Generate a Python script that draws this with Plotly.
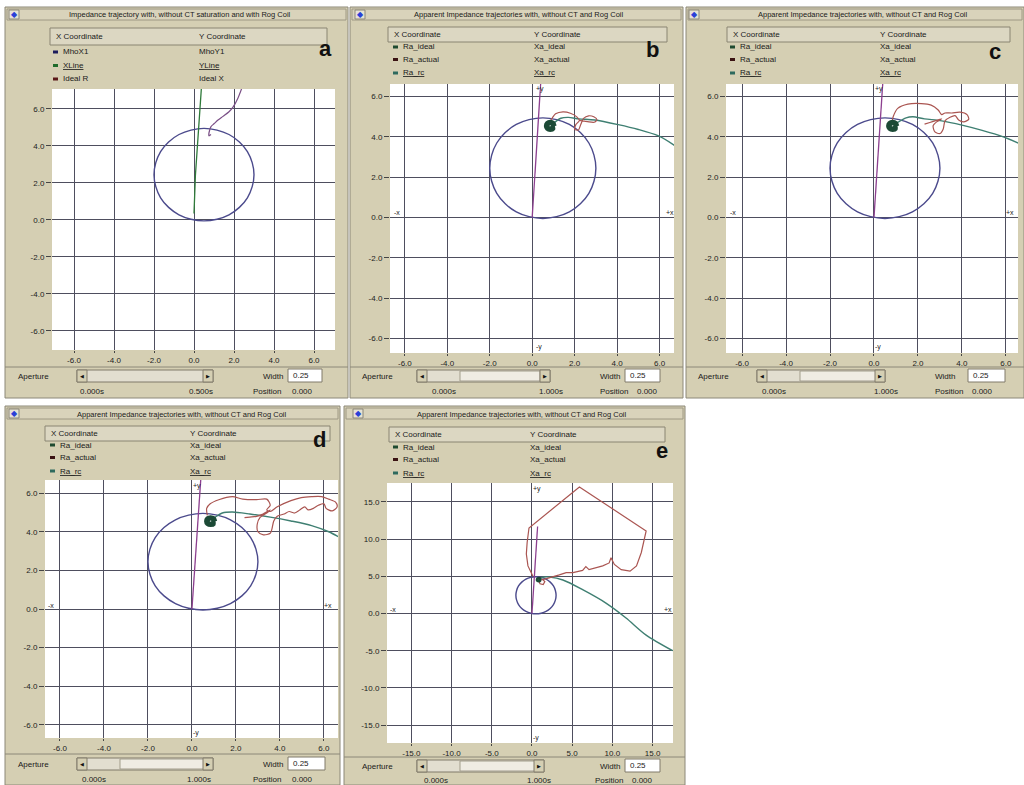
import plotly.graph_objects as go

W, H = 1024, 785
FONT = "Liberation Sans, Arial, sans-serif"

# ---------------- data (R on x, X on y) ----------------
MHO_R = [3.00, 2.91, 2.67, 2.27, 1.75, 1.15, 0.50, -0.15, -0.75, -1.27, -1.67, -1.91, -2.00,
         -1.91, -1.67, -1.27, -0.75, -0.15, 0.50, 1.15, 1.75, 2.27, 2.67, 2.91, 3.00]
MHO_X = [2.45, 3.10, 3.70, 4.22, 4.62, 4.86, 4.95, 4.86, 4.62, 4.22, 3.70, 3.10, 2.45,
         1.80, 1.20, 0.68, 0.28, 0.04, -0.05, 0.04, 0.28, 0.68, 1.20, 1.80, 2.45]

# panel a
XLINE_A = [0.00, 0.03, 0.07, 0.38]
YLINE_A = [0.35, 2.20, 2.40, 7.30]
IDEAL_R_A = [2.45, 2.20, 1.95, 1.75, 1.45, 1.20, 1.00, 0.85, 0.78, 0.74, 0.75, 0.85]
IDEAL_X_A = [7.30, 6.60, 6.10, 5.85, 5.60, 5.40, 5.20, 5.05, 4.85, 4.62, 4.55, 4.62]

# characteristic line (panels b-e)
LINE_R = [0.00, 0.70]
LINE_X = [0.00, 11.70]

# ideal trajectory (settles in a small spiral at the fault point)
RA_IDEAL = [1.10, 1.03, 0.85, 0.67, 0.60, 0.67, 0.85, 1.03, 1.02, 0.97, 0.85, 0.73, 0.68,
            0.73, 0.85, 0.97, 0.94, 0.91, 0.85, 0.79, 0.76, 0.79, 0.85, 0.91, 0.88]
XA_IDEAL = [4.55, 4.73, 4.80, 4.73, 4.55, 4.37, 4.30, 4.37, 4.55, 4.67, 4.72, 4.67, 4.55,
            4.43, 4.38, 4.43, 4.55, 4.61, 4.64, 4.61, 4.55, 4.49, 4.46, 4.49, 4.55]

# panel b
RA_ACTUAL_B = [0.80, 0.95, 1.10, 1.45, 1.80, 2.10, 2.22, 2.05, 2.00, 2.18, 2.28, 2.42, 2.66,
               2.90, 3.05, 2.92, 2.60, 2.35, 2.20]
XA_ACTUAL_B = [4.70, 4.95, 5.15, 5.25, 5.18, 5.00, 4.82, 4.60, 4.38, 4.35, 4.60, 4.92, 5.05,
               5.00, 4.85, 4.73, 4.76, 4.80, 4.85]
RA_RC_B = [0.95, 1.15, 1.35, 1.70, 2.20, 2.95, 4.05, 5.00, 5.95, 6.75]
XA_RC_B = [4.62, 4.80, 4.93, 4.97, 4.90, 4.84, 4.61, 4.37, 4.05, 3.55]

# panel c
RA_ACTUAL_C = [0.82, 0.88, 1.08, 1.54, 2.15, 2.60, 2.92, 3.08, 3.23, 3.54, 3.92, 4.23, 4.31,
               4.08, 3.85, 3.69, 3.46, 3.23, 3.15, 3.00, 2.77, 2.69, 2.85, 3.08, 2.77, 2.54, 2.30]
XA_ACTUAL_C = [4.75, 5.03, 5.42, 5.63, 5.66, 5.58, 5.34, 5.11, 5.19, 5.19, 5.23, 5.11, 4.88,
               4.75, 4.84, 5.06, 4.98, 4.80, 4.40, 4.17, 4.25, 4.56, 4.75, 4.90, 4.80, 4.72, 4.64]
RA_RC_C = [0.95, 1.08, 1.46, 1.77, 2.30, 3.08, 4.00, 4.92, 5.85, 6.77]
XA_RC_C = [4.62, 4.72, 4.95, 5.00, 4.90, 4.80, 4.59, 4.33, 4.02, 3.60]

# panel d
RA_ACTUAL_D = [0.70, 0.67, 0.83, 1.22, 1.84, 2.31, 2.94, 3.40, 3.56, 3.40, 3.56, 3.88, 4.50,
               4.97, 5.44, 5.90, 6.22, 6.53, 6.60, 6.38, 6.10, 6.00, 5.75, 5.52, 5.28, 5.13,
               4.90, 4.66, 4.42, 4.19, 3.88, 3.72, 3.64, 3.56, 3.25, 3.00, 2.97, 3.09, 3.40,
               3.56, 3.20, 2.94, 2.63, 2.39]
XA_ACTUAL_D = [4.85, 5.21, 5.45, 5.66, 5.82, 5.69, 5.66, 5.69, 5.37, 5.13, 5.05, 5.29, 5.61,
               5.77, 5.82, 5.82, 5.69, 5.53, 5.29, 5.08, 5.21, 5.45, 5.37, 5.21, 5.13, 5.29,
               5.13, 4.97, 5.05, 4.92, 4.80, 4.56, 4.16, 3.92, 3.84, 4.00, 4.40, 4.73, 4.97,
               5.13, 4.90, 4.80, 4.76, 4.73]
RA_RC_D = [0.90, 1.06, 1.38, 1.84, 2.63, 3.56, 4.50, 5.44, 6.22, 6.80]
XA_RC_D = [4.62, 4.76, 4.97, 5.02, 4.92, 4.76, 4.56, 4.32, 4.00, 3.65]

# panel e
RA_ACTUAL_E = [0.80, 1.00, 1.40, 1.60, 1.30, 1.16, 1.80, 2.60, 3.40, 4.25, 5.10, 6.30, 6.70,
               7.10, 8.00, 8.80, 9.60, 9.83, 10.25, 11.10, 12.20, 13.00, 13.60, 14.20, 5.90,
               -0.37, -0.60, -0.70, -0.50, 0.12]
XA_ACTUAL_E = [4.50, 4.00, 3.90, 4.30, 4.60, 4.50, 4.70, 5.00, 5.20, 5.50, 5.50, 5.80, 6.30,
               5.90, 6.20, 6.40, 6.80, 7.50, 6.60, 5.90, 5.70, 6.40, 8.20, 11.10, 17.00,
               11.50, 9.55, 8.00, 6.40, 5.00]
RA_RC_E = [0.80, 1.50, 2.20, 3.85, 6.30, 9.20, 11.70, 14.20, 17.50]
XA_RC_E = [4.70, 4.90, 4.90, 4.50, 3.20, 1.40, -0.60, -2.90, -5.00]

TICKS_SMALL = [-6, -4, -2, 0, 2, 4, 6]
TICKS_LARGE = [-15, -10, -5, 0, 5, 10, 15]

# ---------------- styling ----------------
TAN = "#d5cfb3"
EDGE = "#8c8878"
GRID = "#4e4e5e"
C_MHO = "#4b4a8c"
C_LINE = "#8c3f8f"
C_XLINE = "#2f7a3a"
C_IDEAL_A = "#7a4f86"
C_ACTUAL = "#aa5551"
C_RC = "#3f7f72"
C_IDEAL = "#1c4a36"

shapes = []
annotations = []


def px(x):
    return x / W


def py(y):
    return 1 - y / H


def rect(x0, y0, x1, y1, fill, line=None, lw=1):
    shapes.append(dict(type="rect", xref="paper", yref="paper", layer="below",
                       x0=px(x0), x1=px(x1), y0=py(y1), y1=py(y0), fillcolor=fill,
                       line=dict(color=line if line else fill, width=lw if line else 0)))


def hline(x0, x1, y, color=EDGE, lw=1):
    shapes.append(dict(type="line", xref="paper", yref="paper", layer="below",
                       x0=px(x0), x1=px(x1), y0=py(y), y1=py(y), line=dict(color=color, width=lw)))


def text(x, y, s, size=8, anchor="left", color="#1a1a1a"):
    annotations.append(dict(x=px(x), y=py(y), xref="paper", yref="paper", text=s,
                            showarrow=False, xanchor=anchor, yanchor="middle",
                            font=dict(family=FONT, size=size, color=color)))


TITLE_A = "Impedance trajectory with, without CT saturation and with Rog Coil"
TITLE_B = "Apparent Impedance trajectories with, without CT and Rog Coil"
NAMES_A = [("MhoX1", "MhoY1", False, "#1c1c5c"), ("XLine", "YLine", True, "#1f6b2b"),
           ("Ideal R", "Ideal X", False, "#5a1818")]
NAMES_B = [("Ra_ideal", "Xa_ideal", False, "#1e4a30"), ("Ra_actual", "Xa_actual", False, "#3a1212"),
           ("Ra_rc", "Xa_rc", True, "#2e6a5e")]

PANELS = [
    dict(frame=(5, 7, 348, 398), tb=(9, 20), icon=9, title=TITLE_A, title_x=180,
         header=(50, 28, 327, 45), col1=52, col2=197, rows=(52, 65.5, 79), names=NAMES_A,
         label=("a", 325, 49), plot=(52, 89, 335, 350), rx=[-7.1, 7.05], ry=[-7.03, 7.08],
         ticks=TICKS_SMALL, sep=367, ap=(16, 376), slider=(77, 370, 213, 382), thumb=None,
         wlabel=285, wbox=(288, 369, 322, 382), times=(78, 187, 283, 290, 391), mid="0.500s",
         dirs=None),
    dict(frame=(350, 7, 683, 398), tb=(9, 20), icon=355, title=TITLE_B, title_x=518,
         header=(388, 27, 667, 42), col1=392, col2=532, rows=(47, 59.5, 73), names=NAMES_B,
         label=("b", 652, 50), plot=(390, 84, 674, 353), rx=[-6.7, 6.68], ry=[-6.73, 6.63],
         ticks=TICKS_SMALL, sep=367, ap=(360, 376), slider=(417, 370, 550, 382), thumb=(460, 540),
         wlabel=622, wbox=(625, 369, 660, 382), times=(430, 537, 630, 635, 391), mid="1.000s",
         dirs={"+y": (534, 89), "-y": (534, 347), "-x": (392, 213), "+x": (664, 213)}),
    dict(frame=(686, 7, 1024, 398), tb=(9, 20), icon=689, title=TITLE_B, title_x=862,
         header=(727, 27, 1010, 42), col1=729, col2=878, rows=(47, 59.5, 73), names=NAMES_B,
         label=("c", 995, 52), plot=(726, 84, 1018, 353), rx=[-6.73, 6.55], ry=[-6.73, 6.63],
         ticks=TICKS_SMALL, sep=367, ap=(696, 376), slider=(757, 370, 885, 382), thumb=(800, 878),
         wlabel=957, wbox=(968, 369, 1005, 382), times=(760, 872, 965, 970, 391), mid="1.000s",
         dirs={"+y": (873, 89), "-y": (873, 347), "-x": (728, 213), "+x": (1004, 213)}),
    dict(frame=(5, 406, 340, 785), tb=(408, 419), icon=9, title=TITLE_B, title_x=181,
         header=(45, 426, 330, 441), col1=49, col2=188, rows=(445, 457.5, 471), names=NAMES_B,
         label=("d", 319, 439), plot=(45, 480, 338, 738), rx=[-6.68, 6.64], ry=[-6.68, 6.68],
         ticks=TICKS_SMALL, sep=754, ap=(16, 764), slider=(77, 758, 213, 770), thumb=(120, 205),
         wlabel=285, wbox=(288, 757, 325, 770), times=(80, 185, 283, 290, 779), mid="1.000s",
         dirs={"+y": (191, 486), "-y": (191, 733), "-x": (46, 605), "+x": (322, 605)}),
    dict(frame=(344, 406, 685, 785), tb=(408, 419), icon=353, title=TITLE_B, title_x=521,
         header=(389, 427, 665, 442), col1=392, col2=528, rows=(447, 459.5, 473), names=NAMES_B,
         label=("e", 662, 450), plot=(387, 483, 673, 743), rx=[-18.03, 17.54], ry=[-17.4, 17.54],
         ticks=TICKS_LARGE, sep=757, ap=(360, 766), slider=(417, 760, 544, 772), thumb=(460, 535),
         wlabel=622, wbox=(625, 759, 660, 772), times=(422, 525, 625, 630, 780), mid="1.000s",
         dirs={"+y": (531, 489), "-y": (531, 738), "-x": (388, 609), "+x": (662, 609)}),
]


def decor(p):
    L, T, R, B = p["frame"]
    rect(L, T, R, B, TAN, EDGE)
    x0, y0, x1, y1 = p["plot"]
    rect(x0, y0, x1, y1, "#ffffff")
    t0, t1 = p["tb"]
    rect(L + 2, t0, R - 2, t1, "#d9d3bb", "#9e9884")
    ic = p["icon"]
    rect(ic, t0 + 1, ic + 10, t1 - 1, "#e6e2d6", EDGE)
    text(ic + 5, (t0 + t1) / 2, "◆", size=8, anchor="center", color="#2a3fd8")
    text(p["title_x"], (t0 + t1) / 2 + 0.5, p["title"], size=7.5, anchor="center")
    hx0, hy0, hx1, hy1 = p["header"]
    rect(hx0, hy0, hx1, hy1, "#dcd7c2", "#8a8572")
    text(hx0 + 4, (hy0 + hy1) / 2, "X Coordinate")
    text(p["col2"], (hy0 + hy1) / 2, "Y Coordinate")
    for y, (n1, n2, ul, mc) in zip(p["rows"], p["names"]):
        rect(p["col1"] + 1, y - 1.5, p["col1"] + 6, y + 1.5, mc)
        if ul:
            n1 = '<span style="text-decoration:underline">%s</span>' % n1
            n2 = '<span style="text-decoration:underline">%s</span>' % n2
        text(p["col1"] + 9, y, n1)
        text(p["col2"], y, n2)
    lab, lx, ly = p["label"]
    text(lx, ly, "<b>%s</b>" % lab, size=22, anchor="center", color="#111111")
    hline(L, R, p["sep"])
    ax_, ay = p["ap"]
    text(ax_, ay, "Aperture")
    sx0, sy0, sx1, sy1 = p["slider"]
    rect(sx0, sy0, sx1, sy1, "#e2ded0", "#807b6a")
    if p["thumb"]:
        rect(p["thumb"][0], sy0 + 1, p["thumb"][1], sy1 - 1, "#efece3", "#a29d8b")
    rect(sx0, sy0, sx0 + 10, sy1, TAN, "#807b6a")
    rect(sx1 - 10, sy0, sx1, sy1, TAN, "#807b6a")
    text(sx0 + 5, (sy0 + sy1) / 2, "◀", size=5, anchor="center", color="#111")
    text(sx1 - 5, (sy0 + sy1) / 2, "▶", size=5, anchor="center", color="#111")
    text(p["wlabel"], ay, "Width", anchor="right")
    wx0, wy0, wx1, wy1 = p["wbox"]
    rect(wx0, wy0, wx1, wy1, "#ffffff", "#807b6a")
    text(wx0 + 3, (wy0 + wy1) / 2, "0.25")
    tt0, tmid, posr, posv, ty = p["times"]
    text(tt0, ty, "0.000s")
    text(tmid, ty, p["mid"])
    text(posr, ty, "Position", anchor="right")
    text(posv, ty, "0.000")
    if p["dirs"]:
        for s, (dx, dy) in p["dirs"].items():
            text(dx, dy, s, size=7, color="#222")


fig = go.Figure()


def axref(k):
    return ("x", "y") if k == 1 else ("x%d" % k, "y%d" % k)


def add(k, xs, ys, color, width=1.2, shape="linear"):
    xa, ya = axref(k)
    fig.add_trace(go.Scatter(x=xs, y=ys, mode="lines", xaxis=xa, yaxis=ya,
                             line=dict(color=color, width=width, shape=shape, smoothing=0.8),
                             showlegend=False, hoverinfo="skip"))


layout_axes = {}
for i, p in enumerate(PANELS):
    k = i + 1
    decor(p)
    x0, y0, x1, y1 = p["plot"]
    common = dict(showgrid=True, gridcolor=GRID, gridwidth=1.3, zeroline=False, showline=False,
                  ticks="outside", tickcolor="#444", tickwidth=1,
                  tickvals=p["ticks"], ticktext=["%.1f" % v for v in p["ticks"]],
                  tickfont=dict(family=FONT, size=8, color="#222"), fixedrange=True)
    xa, ya = axref(k)
    xname = "xaxis" if k == 1 else "xaxis%d" % k
    yname = "yaxis" if k == 1 else "yaxis%d" % k
    layout_axes[xname] = dict(domain=[px(x0), px(x1)], range=p["rx"], anchor=ya, ticklen=2, **common)
    layout_axes[yname] = dict(domain=[py(y1), py(y0)], range=p["ry"], anchor=xa, ticklen=5, **common)

# panel a
add(1, MHO_R, MHO_X, C_MHO, 1.4, "spline")
add(1, XLINE_A, YLINE_A, C_XLINE, 1.3)
add(1, IDEAL_R_A, IDEAL_X_A, C_IDEAL_A, 1.2, "spline")

# panels b-e
SERIES = [
    (RA_ACTUAL_B, XA_ACTUAL_B, RA_RC_B, XA_RC_B),
    (RA_ACTUAL_C, XA_ACTUAL_C, RA_RC_C, XA_RC_C),
    (RA_ACTUAL_D, XA_ACTUAL_D, RA_RC_D, XA_RC_D),
    (RA_ACTUAL_E, XA_ACTUAL_E, RA_RC_E, XA_RC_E),
]
for j, (ra, xa_, rr, xr) in enumerate(SERIES):
    k = j + 2
    add(k, MHO_R, MHO_X, C_MHO, 1.4, "spline")
    add(k, LINE_R, LINE_X, C_LINE, 1.3)
    add(k, rr, xr, C_RC, 1.4, "spline")
    add(k, ra, xa_, C_ACTUAL, 1.2, "linear" if k == 5 else "spline")
    add(k, RA_IDEAL, XA_IDEAL, C_IDEAL, 2.2, "spline")

fig.update_layout(width=W, height=H, margin=dict(l=0, r=0, t=0, b=0),
                  paper_bgcolor="#ffffff", plot_bgcolor="#ffffff", showlegend=False,
                  shapes=shapes, annotations=annotations, **layout_axes)

fig.write_html("out.html", config={"displayModeBar": False})
